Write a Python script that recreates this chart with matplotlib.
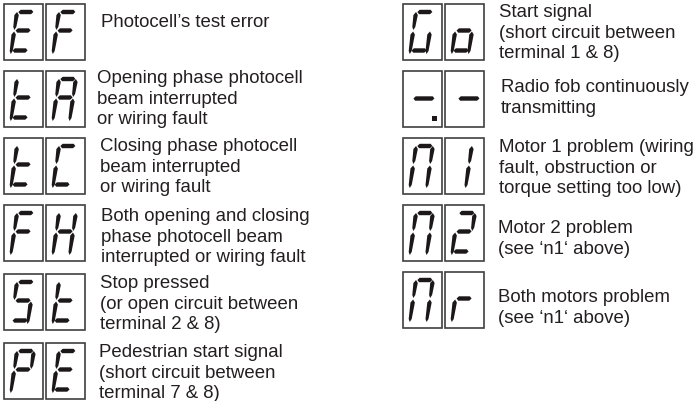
import matplotlib
matplotlib.use("Agg")
import matplotlib.pyplot as plt
from matplotlib.patches import Polygon, Rectangle

plt.rcParams["font.family"] = ["Liberation Sans", "DejaVu Sans"]

# codes and captions, left column then right column
codigos_izq = ["EF", "tA", "tC", "FH", "St", "PE"]
codigos_der = ["Go", "--", "n1", "n2", "nr"]

textos_izq = [
    ["Photocell’s test error"],
    ["Opening phase photocell", "beam interrupted", "or wiring fault"],
    ["Closing phase photocell", "beam interrupted", "or wiring fault"],
    ["Both opening and closing", "phase photocell beam", "interrupted or wiring fault"],
    ["Stop pressed", "(or open circuit between", "terminal 2 & 8)"],
    ["Pedestrian start signal", "(short circuit between", "terminal 7 & 8)"],
]
textos_der = [
    ["Start signal", "(short circuit between", "terminal 1 & 8)"],
    ["Radio fob continuously", "transmitting"],
    ["Motor 1 problem (wiring", "fault, obstruction or", "torque setting too low)"],
    ["Motor 2 problem", "(see ‘n1‘ above)"],
    ["Both motors problem", "(see ‘n1‘ above)"],
]

# which segments are lit for each character
segmentos = {
    "E": "adefg", "F": "aefg", "t": "defg", "A": "abcefg", "C": "adef",
    "H": "bcefg", "S": "acdfg", "P": "abefg", "G": "acdef", "o": "cdeg",
    "-": "g", "n": "abcef", "1": "bc", "2": "abdeg", "r": "eg",
}

# layout in pixels
tinta = "#1c1819"
col_izq = [4, 46]
col_der = [403, 445]
filas_izq = [4, 71, 138, 205, 274, 343]
filas_der = [4, 71, 138, 205, 272]
x_txt_izq = [101, 97, 100, 101, 100, 99]
x_txt_der = [499, 501, 499, 498, 498]
y_txt_izq = [27, 83, 151, 221, 288, 357]
y_txt_der = [17, 92, 152, 233, 302]
ancho_caja = 39
alto_caja = 56
salto = 20.7
tam_letra = 13.4

fig = plt.figure(figsize=(6.96, 4.01), dpi=100)
ax = fig.add_axes([0, 0, 1, 1])
ax.set_xlim(0, 696)
ax.set_ylim(401, 0)
ax.axis("off")


def punto(cx, cy, x, y):
    # x,y are in the upright digit, the slant is applied here
    return (cx + x + (47 - y) * 0.15, cy + y)


def seg_h(cx, cy, y, x0=8.5, x1=23.5):
    g = 2.2
    p = [(x0, y), (x0 + 2, y - g), (x1 - 2, y - g), (x1, y), (x1 - 2, y + g), (x0 + 2, y + g)]
    ax.add_patch(Polygon([punto(cx, cy, a, b) for a, b in p], color=tinta, lw=0))


def seg_v(cx, cy, x, y0, y1):
    p = [(x, y0), (x + 2.2, y0 + 3), (x + 1.5, y1 - 3), (x, y1), (x - 1.5, y1 - 3), (x - 2.2, y0 + 3)]
    ax.add_patch(Polygon([punto(cx, cy, a, b) for a, b in p], color=tinta, lw=0))


def dibuja_digito(cx, cy, letra):
    ax.add_patch(Rectangle((cx, cy), ancho_caja, alto_caja, fill=False, ec="#404040", lw=1.2))
    lit = segmentos[letra]
    izq, der = 7.2, 24
    if letra == "1":
        der = 21
    if letra == "-":
        # the dashes are longer than a normal middle segment
        x0 = 7.5 if cx == col_der[0] else 10.5
        seg_h(cx, cy, 27.5, x0, x0 + 21)
        return
    if "a" in lit:
        seg_h(cx, cy, 8)
    if "g" in lit:
        seg_h(cx, cy, 26.5)
    if "d" in lit:
        seg_h(cx, cy, 46.5)
    if "b" in lit:
        seg_v(cx, cy, der, 8, 26)
    if "c" in lit:
        seg_v(cx, cy, der, 27.5, 50)
    if "f" in lit:
        seg_v(cx, cy, izq, 8, 26)
    if "e" in lit:
        seg_v(cx, cy, izq, 27.5, 50)


for fila, codigo in zip(filas_izq, codigos_izq):
    for cx, letra in zip(col_izq, codigo):
        dibuja_digito(cx, fila, letra)
for fila, codigo in zip(filas_der, codigos_der):
    for cx, letra in zip(col_der, codigo):
        dibuja_digito(cx, fila, letra)

# decimal point of the first dash
ax.add_patch(Rectangle((col_der[0] + 29, filas_der[1] + 45), 5, 5, color=tinta, lw=0))

for x, y, lineas in zip(x_txt_izq + x_txt_der, y_txt_izq + y_txt_der, textos_izq + textos_der):
    for i, linea in enumerate(lineas):
        ax.text(x, y + i * salto, linea, fontsize=tam_letra, color="#231f20", va="baseline", ha="left")

fig.savefig("out.png", dpi=100)
